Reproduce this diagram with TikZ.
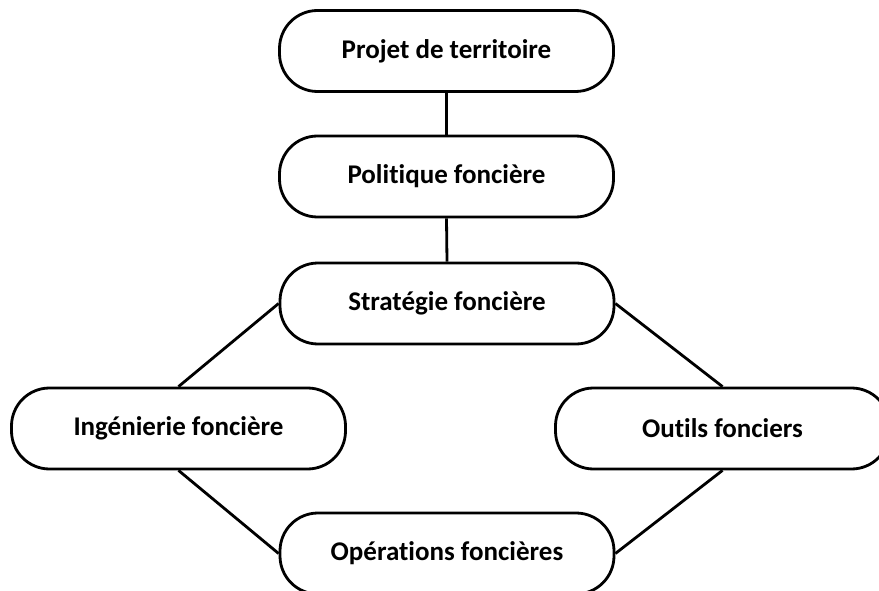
\documentclass[tikz,border=0pt]{standalone}
\usepackage{fontspec}
\setmainfont{Carlito}[Ligatures=CommonOff]
\begin{document}
\begin{tikzpicture}[x=1pt,y=-1pt,
  box/.style={draw=black, line width=2.8pt, rounded corners=38pt, fill=white,
    minimum width=334pt, minimum height=81pt, inner sep=0pt,
    font=\fontsize{27}{32}\selectfont\bfseries, text=black},
  conn/.style={draw=black, line width=2.8pt}]
\clip (0,0) rectangle (879,591);
\fill[white] (0,0) rectangle (879,591);
\node[box] (projet) at (446.5,51) {Projet de territoire};
\node[box] (politique) at (446.5,176.5) {Politique foncière};
\node[box] (strategie) at (447,303.5) {Stratégie foncière};
\node[box] (ingenierie) at (178.5,428.5) {Ingénierie foncière};
\node[box] (outils) at (722.5,428.5) {Outils fonciers};
\node[box] (operations) at (447,553.5) {Opérations foncières};
\draw[conn] (projet.south) -- (politique.north);
\draw[conn] (politique.south) -- (strategie.north);
\draw[conn] (strategie.west) -- (ingenierie.north);
\draw[conn] (strategie.east) -- (outils.north);
\draw[conn] (ingenierie.south) -- (operations.west);
\draw[conn] (outils.south) -- (operations.east);
\end{tikzpicture}
\end{document}
